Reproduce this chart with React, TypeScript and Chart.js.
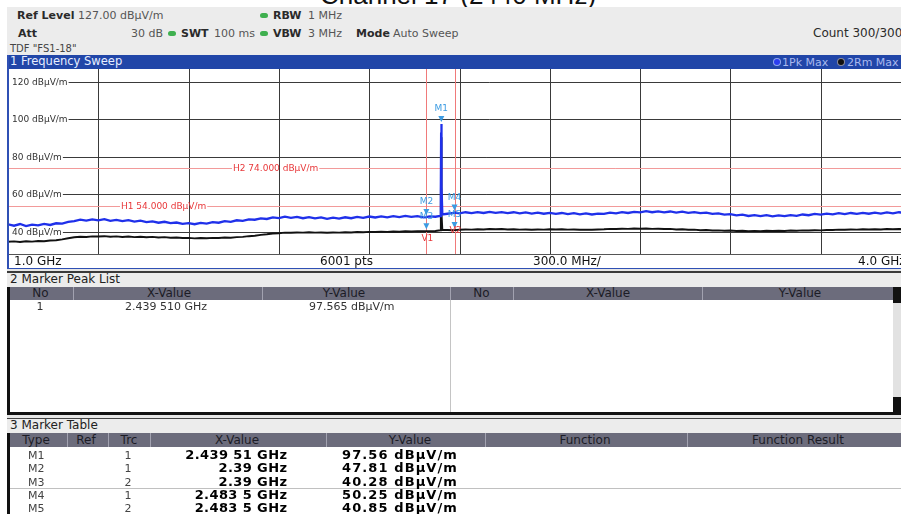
import React, { useEffect, useRef } from "react";
import { Chart, registerables } from "chart.js";

Chart.register(...registerables);

// ---------- data ----------
const sweepFreqGHz = [
  1.00, 1.02, 1.04, 1.06, 1.08, 1.10, 1.12, 1.14, 1.16, 1.18,
  1.20, 1.22, 1.24, 1.26, 1.28, 1.30, 1.32, 1.34, 1.36, 1.38,
  1.40, 1.42, 1.44, 1.46, 1.48, 1.50, 1.52, 1.54, 1.56, 1.58,
  1.60, 1.62, 1.64, 1.66, 1.68, 1.70, 1.72, 1.74, 1.76, 1.78,
  1.80, 1.82, 1.84, 1.86, 1.88, 1.90, 1.92, 1.94, 1.96, 1.98,
  2.00, 2.02, 2.04, 2.06, 2.08, 2.10, 2.12, 2.14, 2.16, 2.18,
  2.20, 2.22, 2.24, 2.26, 2.28, 2.30, 2.32, 2.34, 2.36, 2.38,
  2.39, 2.40, 2.42, 2.436, 2.438, 2.439, 2.4395, 2.440, 2.441, 2.443,
  2.46, 2.48, 2.4835, 2.50,
  2.52, 2.54, 2.56, 2.58, 2.60, 2.62, 2.64, 2.66, 2.68, 2.70,
  2.72, 2.74, 2.76, 2.78, 2.80, 2.82, 2.84, 2.86, 2.88, 2.90,
  2.92, 2.94, 2.96, 2.98, 3.00, 3.02, 3.04, 3.06, 3.08, 3.10,
  3.12, 3.14, 3.16, 3.18, 3.20, 3.22, 3.24, 3.26, 3.28, 3.30,
  3.32, 3.34, 3.36, 3.38, 3.40, 3.42, 3.44, 3.46, 3.48, 3.50,
  3.52, 3.54, 3.56, 3.58, 3.60, 3.62, 3.64, 3.66, 3.68, 3.70,
  3.72, 3.74, 3.76, 3.78, 3.80, 3.82, 3.84, 3.86, 3.88, 3.90,
  3.92, 3.94, 3.96, 3.98, 4.00,
];

const pkMaxDb = [
  43.9, 43.2, 44.1, 43.0, 43.8, 43.4, 44.2, 43.6, 44.5, 44.3,
  45.2, 45.6, 46.4, 45.9, 46.6, 46.1, 46.7, 45.8, 46.3, 45.7,
  46.2, 45.4, 45.9, 45.1, 45.5, 44.8, 45.3, 44.6, 44.9, 44.2,
  44.6, 44.0, 44.7, 44.3, 45.1, 44.8, 45.6, 45.3, 46.1, 45.8,
  46.6, 46.4, 47.1, 46.8, 47.6, 47.3, 48.0, 47.4, 47.9, 47.2,
  47.8, 47.1, 47.6, 46.9, 47.5, 47.0, 47.7, 47.2, 47.9, 47.4,
  48.1, 47.6, 48.2, 47.7, 48.3, 47.8, 48.4, 47.9, 48.3, 47.7,
  47.81, 48.2, 48.0, 48.4, 62.0, 93.0, 97.56, 94.0, 64.0, 49.2,
  49.6, 50.1, 50.25, 49.8,
  50.4, 49.9, 50.5, 50.0, 50.6, 50.1, 50.5, 49.9, 50.4, 49.8,
  50.3, 49.7, 50.2, 49.6, 50.1, 49.5, 50.0, 49.4, 49.9, 49.3,
  49.8, 49.2, 49.7, 49.5, 50.2, 49.8, 50.5, 50.0, 50.6, 50.3,
  51.0, 50.4, 50.9, 50.3, 50.8, 50.2, 50.7, 50.1, 50.5, 49.9,
  50.2, 49.5, 49.8, 49.1, 49.4, 48.7, 49.1, 48.4, 48.9, 48.3,
  48.8, 48.2, 48.7, 48.3, 48.9, 48.5, 49.2, 48.8, 49.5, 49.1,
  49.7, 49.3, 49.9, 49.4, 50.0, 49.5, 50.1, 49.6, 50.2, 49.7,
  50.3, 49.8, 50.4, 50.0, 50.3,
];

const rmMaxDb = [
  34.6, 34.8, 34.5, 34.9, 34.7, 35.0, 34.9, 35.3, 35.4, 35.9,
  36.5, 37.0, 37.3, 37.2, 37.5, 37.4, 37.6, 37.3, 37.5, 37.2,
  37.4, 37.1, 37.3, 37.0, 37.2, 36.9, 37.1, 36.8, 36.9, 36.6,
  36.7, 36.4, 36.6, 36.5, 36.7, 36.6, 36.9, 36.8, 37.1, 37.2,
  37.6, 37.8, 38.3, 38.6, 39.0, 39.2, 39.5, 39.4, 39.6, 39.5,
  39.7, 39.5, 39.6, 39.4, 39.6, 39.5, 39.7, 39.6, 39.8, 39.7,
  39.9, 39.8, 40.0, 39.9, 40.1, 40.0, 40.2, 40.1, 40.3, 40.2,
  40.28, 40.3, 40.4, 40.8, 52.0, 86.0, 90.5, 82.0, 50.0, 40.9,
  40.9, 40.8, 40.85, 41.0,
  41.2, 41.1, 41.3, 41.2, 41.4, 41.3, 41.4, 41.2, 41.3, 41.1,
  41.2, 41.0, 41.2, 41.1, 41.3, 41.2, 41.3, 41.1, 41.2, 41.0,
  41.1, 41.0, 41.2, 41.3, 41.5, 41.4, 41.6, 41.5, 41.7, 41.6,
  41.7, 41.5, 41.6, 41.4, 41.5, 41.2, 41.3, 41.0, 41.1, 40.8,
  40.9, 40.6, 40.7, 40.5, 40.6, 40.4, 40.5, 40.3, 40.4, 40.3,
  40.5, 40.4, 40.5, 40.4, 40.6, 40.5, 40.7, 40.6, 40.8, 40.7,
  40.9, 40.9, 41.1, 41.0, 41.2, 41.1, 41.3, 41.2, 41.3, 41.2,
  41.4, 41.3, 41.4, 41.3, 41.5,
];

const gridFreqGHz = [1.3, 1.6, 1.9, 2.2, 2.5, 2.8, 3.1, 3.4, 3.7];
const levelTicksDb = [120, 100, 80, 60, 40];
const limitNames = ["H1", "H2"];
const limitDb = [54, 74];
const vLineNames = ["V1", "V2"];
const vLineGHz = [2.39, 2.4835];

const markerNames = ["M1", "M2", "M3", "M4", "M5"];
const markerTrace = ["1", "1", "2", "1", "2"];
const markerGHz = [2.43951, 2.39, 2.39, 2.4835, 2.4835];
const markerDb = [97.56, 47.81, 40.28, 50.25, 40.85];
const markerXText = ["2.439 51 GHz", "2.39 GHz", "2.39 GHz", "2.483 5 GHz", "2.483 5 GHz"];
const markerYText = ["97.56 dBµV/m", "47.81 dBµV/m", "40.28 dBµV/m", "50.25 dBµV/m", "40.85 dBµV/m"];

const peakNo = ["1"];
const peakXText = ["2.439 510 GHz"];
const peakYText = ["97.565 dBµV/m"];

// ---------- helpers ----------
const FONT = '"DejaVu Sans", "Noto Sans", sans-serif';

function T(props: any) {
  const { x, b, size = 11, bold = false, color = "#333", align = "left", ls = 0, family = FONT, children } = props;
  const st: any = {
    position: "absolute",
    top: b - 0.946 * size,
    fontSize: size,
    lineHeight: `${size * 1.2}px`,
    fontWeight: bold ? 700 : 400,
    color,
    whiteSpace: "nowrap",
    fontFamily: family,
    letterSpacing: ls,
  };
  if (align === "left") st.left = x;
  else if (align === "center") {
    st.left = x - 150;
    st.width = 300;
    st.textAlign = "center";
  } else {
    st.left = x - 300;
    st.width = 300;
    st.textAlign = "right";
  }
  return <div style={st}>{children}</div>;
}

function R(props: any) {
  const { x, y, w, h, bg, style } = props;
  return <div style={{ position: "absolute", left: x, top: y, width: w, height: h, background: bg, ...(style || {}) }} />;
}

const gridPlugin = {
  id: "specGrid",
  beforeDatasetsDraw(chart: any) {
    const { ctx, chartArea, scales } = chart;
    const { left, right, top, bottom } = chartArea;
    const xs = scales.x;
    const ys = scales.y;
    ctx.save();
    ctx.lineWidth = 1;
    ctx.strokeStyle = "#3a3a3a";
    for (const f of gridFreqGHz) {
      const px = Math.round(xs.getPixelForValue(f)) + 0.5;
      ctx.beginPath();
      ctx.moveTo(px, top);
      ctx.lineTo(px, bottom);
      ctx.stroke();
    }
    ctx.font = '9px "DejaVu Sans"';
    ctx.textBaseline = "middle";
    ctx.textAlign = "left";
    for (const v of levelTicksDb) {
      const py = Math.round(ys.getPixelForValue(v)) + 0.5;
      const label = `${v} dBµV/m`;
      ctx.fillStyle = "#333";
      ctx.fillText(label, left + 4, py);
      const w = ctx.measureText(label).width;
      ctx.beginPath();
      ctx.moveTo(left + 4 + w + 1, py);
      ctx.lineTo(right, py);
      ctx.stroke();
    }
    // limit lines
    const labelX = [113, 225];
    limitDb.forEach((v, i) => {
      const py = Math.round(ys.getPixelForValue(v)) + 0.5;
      const label = `${limitNames[i]} ${v.toFixed(3)} dBµV/m`;
      const w = ctx.measureText(label).width;
      ctx.strokeStyle = "#f29a9a";
      ctx.beginPath();
      ctx.moveTo(left, py);
      ctx.lineTo(left + labelX[i] - 1, py);
      ctx.moveTo(left + labelX[i] + w + 1, py);
      ctx.lineTo(right, py);
      ctx.stroke();
      ctx.fillStyle = "#e8383a";
      ctx.fillText(label, left + labelX[i], py);
    });
    // vertical display lines
    ctx.strokeStyle = "#f07a7a";
    for (const f of vLineGHz) {
      const px = Math.round(xs.getPixelForValue(f)) + 0.5;
      ctx.beginPath();
      ctx.moveTo(px, top);
      ctx.lineTo(px, bottom);
      ctx.stroke();
    }
    ctx.restore();
  },
  afterDatasetsDraw(chart: any) {
    const { ctx, scales } = chart;
    const xs = scales.x;
    const ys = scales.y;
    ctx.save();
    ctx.font = '9px "DejaVu Sans"';
    ctx.textAlign = "center";
    ctx.textBaseline = "middle";
    ctx.fillStyle = "#3c9be2";
    markerNames.forEach((n, i) => {
      const px = xs.getPixelForValue(markerGHz[i]);
      const py = ys.getPixelForValue(markerDb[i]);
      ctx.beginPath();
      ctx.moveTo(px - 3, py - 8);
      ctx.lineTo(px + 3, py - 8);
      ctx.lineTo(px, py - 2);
      ctx.closePath();
      ctx.fill();
      ctx.fillText(n, px, py - 15);
    });
    ctx.fillStyle = "#e8383a";
    const vLabelOffset = [170, 162];
    vLineNames.forEach((n, i) => {
      const px = xs.getPixelForValue(vLineGHz[i]);
      ctx.fillText(n, px + 1, vLabelOffset[i]);
    });
    ctx.restore();
  },
};

function SweepChart() {
  const ref = useRef<HTMLCanvasElement | null>(null);
  useEffect(() => {
    const canvas = ref.current!;
    const chart = new Chart(canvas, {
      type: "line",
      data: {
        datasets: [
          {
            label: "1Pk Max",
            data: sweepFreqGHz.map((f, i) => ({ x: f, y: pkMaxDb[i] })),
            borderColor: "#1f30ea",
            borderWidth: 2.3,
            pointRadius: 0,
            tension: 0,
          },
          {
            label: "2Rm Max",
            data: sweepFreqGHz.map((f, i) => ({ x: f, y: rmMaxDb[i] })),
            borderColor: "#111111",
            borderWidth: 1.9,
            pointRadius: 0,
            tension: 0,
          },
        ],
      },
      options: {
        responsive: false,
        maintainAspectRatio: false,
        animation: false,
        devicePixelRatio: 1,
        events: [],
        layout: { padding: 0 },
        scales: {
          x: { type: "linear", min: 1, max: 4, display: false },
          y: { type: "linear", min: 27, max: 127, display: false },
        },
        plugins: { legend: { display: false }, tooltip: { enabled: false } },
      },
      plugins: [gridPlugin],
    } as any);
    return () => chart.destroy();
  }, []);
  return (
    <canvas
      ref={ref}
      width={903}
      height={187}
      style={{ position: "absolute", left: 8, top: 69, width: 903, height: 187 }}
    />
  );
}

const HDR = "#6c6c7c";
const SEP = "#a2a2b0";
const rowBase = [459.3, 472.7, 486, 499.3, 512.7];

export default function App() {
  return (
    <div style={{ position: "fixed", left: 0, top: 0, width: 901, height: 514, overflow: "hidden", background: "#fff", fontFamily: FONT }}>
      {/* cut-off title */}
      <T x={320} b={5} size={26} color="#111" family='"Liberation Sans", Arial, sans-serif'>Channel 17 (2440 MHz)</T>

      {/* header */}
      <R x={7} y={7} w={894} h={48} bg="#ececec" />
      <T x={17} b={19.5} bold color="#2a2a2a">Ref Level</T>
      <T x={78} b={19.5} color="#555">127.00 dBµV/m</T>
      <R x={260} y={13} w={8} h={5} bg="#3fb04f" style={{ borderRadius: 3 }} />
      <T x={273} b={19.5} bold color="#2a2a2a">RBW</T>
      <T x={308} b={19.5} color="#555">1 MHz</T>

      <T x={18} b={37.5} bold color="#2a2a2a">Att</T>
      <T x={131} b={37.5} color="#555">30 dB</T>
      <R x={168} y={31} w={8} h={5} bg="#3fb04f" style={{ borderRadius: 3 }} />
      <T x={181} b={37.5} bold color="#2a2a2a">SWT</T>
      <T x={214} b={37.5} color="#555">100 ms</T>
      <R x={260} y={31} w={8} h={5} bg="#3fb04f" style={{ borderRadius: 3 }} />
      <T x={273} b={37.5} bold color="#2a2a2a">VBW</T>
      <T x={308} b={37.5} color="#555">3 MHz</T>
      <T x={356} b={37.5} bold color="#2a2a2a">Mode</T>
      <T x={393} b={37.5} color="#555">Auto Sweep</T>
      <T x={813} b={37.5} size={12} color="#2a2a2a">Count 300/300</T>
      <T x={10} b={52} size={10} color="#444">TDF "FS1-18"</T>

      {/* sweep window title bar */}
      <R x={7} y={55} w={894} h={13.5} bg="#2146a8" />
      <T x={10} b={66} size={11.5} color="#e8eeff">1 Frequency Sweep</T>
      <R x={773.5} y={58.5} w={6} h={6} bg="#2b3df0" style={{ borderRadius: 3, boxShadow: "0 0 0 1px #8fa6ee" }} />
      <T x={782} b={66} color="#a9b9ee">1Pk Max</T>
      <R x={837.5} y={58.5} w={6} h={6} bg="#111" style={{ borderRadius: 3, boxShadow: "0 0 0 1px #8a8a9a" }} />
      <T x={847} b={66} color="#a9b9ee">2Rm Max</T>

      {/* sweep area */}
      <R x={7} y={68.5} w={894} h={200} bg="#fff" />
      <SweepChart />
      <R x={8} y={254} w={893} h={14} bg="#fff" />
      <R x={8} y={254} w={893} h={1} bg="#555" />
      <T x={14} b={265.5} size={12} color="#111">1.0 GHz</T>
      <T x={320} b={265.5} size={12} color="#111">6001 pts</T>
      <T x={533} b={265.5} size={12} color="#111">300.0 MHz/</T>
      <T x={858} b={265.5} size={12} color="#111">4.0 GHz</T>
      <R x={7} y={55} w={1.5} h={214} bg="#2f50b4" />
      <R x={7} y={267.5} w={894} h={1.5} bg="#2f50b4" />

      {/* panel 2: marker peak list */}
      <R x={7} y={269} w={894} h={3} bg="#e6e6e6" />
      <R x={7} y={271} w={894} h={1.5} bg="#3a3a3a" />
      <R x={7} y={272.5} w={894} h={14.5} bg="#ececec" />
      <T x={10} b={283.5} size={12} color="#222">2 Marker Peak List</T>
      <R x={7} y={287} w={886} h={12.5} bg={HDR} />
      {[73, 262, 449.5, 513, 702].map((sx) => (
        <R key={sx} x={sx} y={287} w={1} h={12.5} bg={SEP} />
      ))}
      <T x={40.5} b={297.5} size={12} align="center" color="#1c1c26">No</T>
      <T x={169} b={297.5} size={12} align="center" color="#1c1c26">X-Value</T>
      <T x={344} b={297.5} size={12} align="center" color="#1c1c26">Y-Value</T>
      <T x={481.5} b={297.5} size={12} align="center" color="#1c1c26">No</T>
      <T x={608} b={297.5} size={12} align="center" color="#1c1c26">X-Value</T>
      <T x={800} b={297.5} size={12} align="center" color="#1c1c26">Y-Value</T>
      <R x={450} y={299.5} w={1} h={113} bg="#c4c4c4" />
      {peakNo.map((n, i) => (
        <React.Fragment key={n}>
          <T x={40} b={310 + i * 13.4} align="center" color="#333">{n}</T>
          <T x={125} b={310 + i * 13.4} color="#333">{peakXText[i]}</T>
          <T x={309} b={310 + i * 13.4} color="#333">{peakYText[i]}</T>
        </React.Fragment>
      ))}
      {/* scrollbar */}
      <R x={892.5} y={287} w={9} h={16} bg="#111" />
      <R x={892.5} y={303} w={9} h={94} bg="#e2e2e2" />
      <R x={892.5} y={397} w={9} h={16} bg="#111" />
      <R x={7} y={287} w={2.5} h={128} bg="#111" />
      <R x={7} y={412} w={894} h={3} bg="#111" />

      {/* panel 3: marker table */}
      <R x={7} y={415} w={894} h={3} bg="#e6e6e6" />
      <R x={7} y={418} w={894} h={1} bg="#444" />
      <R x={7} y={419} w={894} h={14} bg="#ececec" />
      <T x={10} b={429.5} size={12} color="#222">3 Marker Table</T>
      <R x={7} y={433} w={894} h={14} bg={HDR} />
      {[67, 108, 150, 326, 485, 687].map((sx) => (
        <R key={sx} x={sx} y={433} w={1} h={14} bg={SEP} />
      ))}
      <T x={36} b={444.5} size={12} align="center" color="#1c1c26">Type</T>
      <T x={86} b={444.5} size={12} align="center" color="#1c1c26">Ref</T>
      <T x={129} b={444.5} size={12} align="center" color="#1c1c26">Trc</T>
      <T x={237} b={444.5} size={12} align="center" color="#1c1c26">X-Value</T>
      <T x={410} b={444.5} size={12} align="center" color="#1c1c26">Y-Value</T>
      <T x={585} b={444.5} size={12} align="center" color="#1c1c26">Function</T>
      <T x={798} b={444.5} size={12} align="center" color="#1c1c26">Function Result</T>
      <R x={7} y={433} w={2.5} h={81} bg="#111" />
      <R x={9.5} y={488} w={892} h={1} bg="#c0c0c0" />
      {markerNames.map((n, i) => (
        <React.Fragment key={n}>
          <T x={28} b={rowBase[i]} color="#444">{n}</T>
          <T x={128} b={rowBase[i]} align="center" color="#444">{markerTrace[i]}</T>
          <T x={287.4} b={rowBase[i]} size={13} bold align="right" ls={0.4} color="#000">{markerXText[i]}</T>
          <T x={342} b={rowBase[i]} size={13} bold ls={1.1} color="#000">{markerYText[i]}</T>
        </React.Fragment>
      ))}
    </div>
  );
}
